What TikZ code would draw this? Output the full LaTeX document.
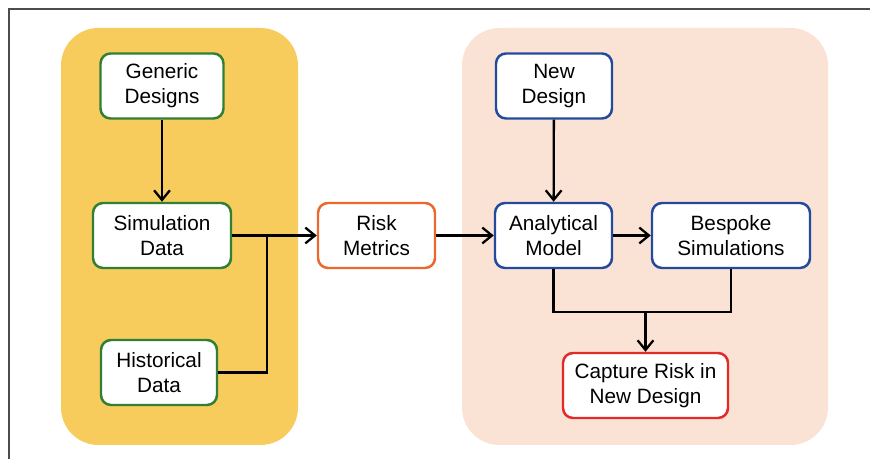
\documentclass[tikz,border=0pt]{standalone}
\usepackage{fontspec}
\setmainfont{Liberation Sans}
\usepackage{tikz}
\usetikzlibrary{positioning,arrows.meta,calc}
\definecolor{pastbg}{RGB}{248,204,92}
\definecolor{newbg}{RGB}{250,227,213}
\definecolor{pastline}{RGB}{48,128,52}
\definecolor{newline}{RGB}{36,74,160}
\definecolor{riskline}{RGB}{236,104,44}
\definecolor{outline}{RGB}{228,42,40}

\begin{document}
\begin{tikzpicture}[
    box/.style={draw, line width=1.4pt, rounded corners=0.2cm, fill=white,
      align=center, minimum height=1.3cm, inner sep=2pt,
      font=\fontsize{11.8}{14.2}\selectfont},
    flow/.style={line width=1.3pt, black},
    flowto/.style={flow, -{Straight Barb[length=5.5pt,width=9pt,line width=1.3pt]}}]
  \useasboundingbox (0,0) rectangle (17.4,9.18);
  \draw[gray!60!black, line width=0.8pt] (0.18,0) |- (17.4,9.0);
  % panels
  \fill[pastbg, rounded corners=0.75cm] (1.22,0.28) rectangle (5.96,8.62);
  \fill[newbg, rounded corners=0.75cm] (9.24,0.28) rectangle (16.56,8.62);
  % existing data
  \node[box, draw=pastline, minimum width=2.46cm] (gen) at (3.24,7.46) {Generic\\Designs};
  \node[box, draw=pastline, minimum width=2.76cm] (sim) at (3.24,4.47) {Simulation\\Data};
  \node[box, draw=pastline, minimum width=2.32cm] (hist) at (3.18,1.73) {Historical\\Data};
  \node[box, draw=riskline, minimum width=2.34cm] (risk) at (7.53,4.47) {Risk\\Metrics};
  % new design side
  \node[box, draw=newline, minimum width=2.32cm] (newd) at (11.08,7.46) {New\\Design};
  \node[box, draw=newline, minimum width=2.34cm] (ana) at (11.07,4.47) {Analytical\\Model};
  \node[box, draw=newline, minimum width=3.16cm] (besp) at (14.62,4.47) {Bespoke\\Simulations};
  \node[box, draw=outline, minimum width=3.3cm] (cap) at (12.91,1.47) {Capture Risk in\\New Design};
  \coordinate (join) at (5.34,4.47);
  \coordinate (merge) at (12.91,2.94);
  % connectors
  \draw[flowto] (gen) -- (sim);
  \draw[flowto] (sim) -- (risk);
  \draw[flow] (hist.east) -| (join);
  \draw[flowto] (risk) -- (ana);
  \draw[flowto] (newd) -- (ana);
  \draw[flowto] (ana) -- (besp);
  \draw[flow] (ana.south) |- (merge) -| (besp.south);
  \draw[flowto] (merge) -- (cap);
\end{tikzpicture}
\end{document}
